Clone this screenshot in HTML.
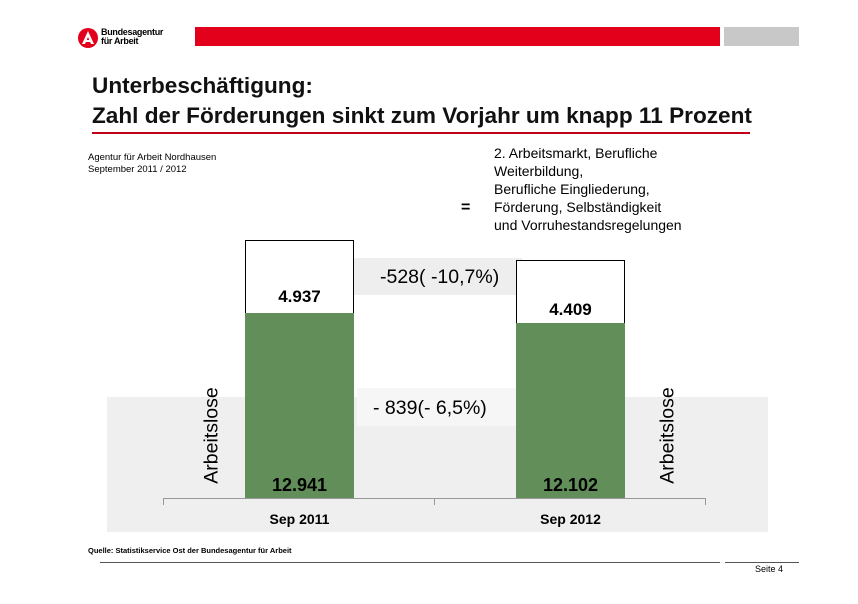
<!DOCTYPE html>
<html><head><meta charset="utf-8"><style>
body{margin:0;width:858px;height:604px;background:#fff;position:relative;overflow:hidden;font-family:"Liberation Sans",Arial,sans-serif;color:#000}
.a{position:absolute;white-space:nowrap}
</style></head><body>
<svg class="a" style="left:77px;top:27px" width="22" height="22" viewBox="0 0 22 22"><circle cx="11" cy="11" r="10" fill="#e2001a"/><path d="M11 4 L17 17 L14 17 L11 10 L8 17 L5 17 Z" fill="#fff"/><rect x="8" y="13" width="6" height="2" fill="#fff"/></svg>
<div class="a" style="left:101px;top:28px;font-size:9px;font-weight:bold;line-height:9px;letter-spacing:-0.3px">Bundesagentur<br>für Arbeit</div>
<div class="a" style="left:195px;top:27px;width:525px;height:19px;background:#e2001a"></div>
<div class="a" style="left:724px;top:27px;width:75px;height:19px;background:#c8c8c8"></div>
<div class="a" style="left:92px;top:71px;font-size:22.6px;font-weight:bold;line-height:30px;color:#111">Unterbeschäftigung:<br>Zahl der Förderungen sinkt zum Vorjahr um knapp 11 Prozent</div>
<div class="a" style="left:92px;top:132px;width:658px;height:2px;background:#c00018"></div>
<div class="a" style="left:88px;top:152px;font-size:9.5px;line-height:12px">Agentur für Arbeit Nordhausen<br>September 2011 / 2012</div>
<div class="a" style="left:461px;top:199px;font-size:16px;font-weight:bold">=</div>
<div class="a" style="left:494px;top:144px;font-size:14px;line-height:18px">2. Arbeitsmarkt, Berufliche<br>Weiterbildung,<br>Berufliche Eingliederung,<br>Förderung, Selbständigkeit<br>und Vorruhestandsregelungen</div>
<div class="a" style="left:107px;top:397px;width:661px;height:135px;background:#efefef"></div>
<div class="a" style="left:348px;top:258px;width:174px;height:37px;background:#eeeeee"></div>
<div class="a" style="left:380px;top:266px;font-size:19.5px">-528( -10,7%)</div>
<div class="a" style="left:357px;top:388px;width:160px;height:38px;background:#f6f6f6"></div>
<div class="a" style="left:373px;top:397px;font-size:19.5px">- 839(- 6,5%)</div>
<div class="a" style="left:245px;top:240px;width:107px;height:72px;background:#fff;border:1px solid #000"></div>
<div class="a" style="left:245px;top:313px;width:109px;height:185px;background:#628f59"></div>
<div class="a" style="left:516px;top:260px;width:107px;height:62px;background:#fff;border:1px solid #000"></div>
<div class="a" style="left:516px;top:323px;width:109px;height:175px;background:#628f59"></div>
<div class="a" style="left:245px;top:287px;width:109px;text-align:center;font-size:17px;font-weight:bold">4.937</div>
<div class="a" style="left:516px;top:300px;width:109px;text-align:center;font-size:17px;font-weight:bold">4.409</div>
<div class="a" style="left:245px;top:475px;width:109px;text-align:center;font-size:18px;font-weight:bold">12.941</div>
<div class="a" style="left:516px;top:475px;width:109px;text-align:center;font-size:18px;font-weight:bold">12.102</div>
<div class="a" style="left:163px;top:498px;width:542px;height:1px;background:#999"></div>
<div class="a" style="left:163px;top:498px;width:1px;height:7px;background:#999"></div>
<div class="a" style="left:434px;top:498px;width:1px;height:7px;background:#999"></div>
<div class="a" style="left:705px;top:498px;width:1px;height:7px;background:#999"></div>
<div class="a" style="left:245px;top:511px;width:109px;text-align:center;font-size:14px;font-weight:bold">Sep 2011</div>
<div class="a" style="left:516px;top:511px;width:109px;text-align:center;font-size:14px;font-weight:bold">Sep 2012</div>
<div class="a" style="left:152px;top:424px;width:120px;text-align:center;font-size:19.5px;transform:rotate(-90deg)">Arbeitslose</div>
<div class="a" style="left:608px;top:424px;width:120px;text-align:center;font-size:19.5px;transform:rotate(-90deg)">Arbeitslose</div>
<div class="a" style="left:88px;top:546px;font-size:7.5px;font-weight:bold">Quelle: Statistikservice Ost der Bundesagentur für Arbeit</div>
<div class="a" style="left:100px;top:562px;width:620px;height:1px;background:#555"></div>
<div class="a" style="left:725px;top:562px;width:74px;height:1px;background:#555"></div>
<div class="a" style="left:755px;top:564px;font-size:9px">Seite 4</div>
</body></html>
